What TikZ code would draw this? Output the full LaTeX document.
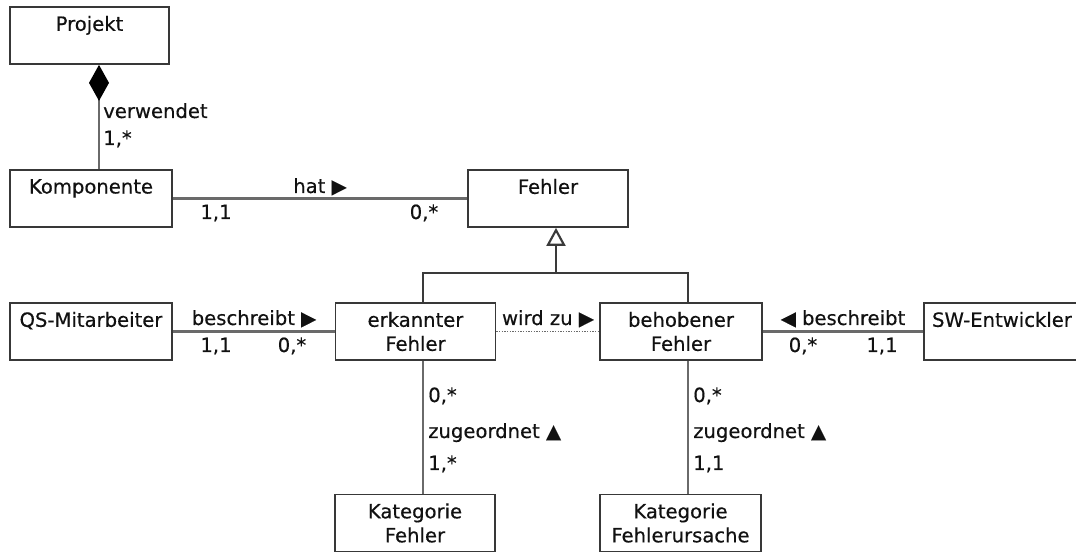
\documentclass[tikz,border=0pt]{standalone}
\usepackage{fontspec}
\setmainfont[FakeBold=0.4]{DejaVu Sans}
\usetikzlibrary{arrows.meta}
\definecolor{boxc}{HTML}{383838}
\definecolor{connc}{HTML}{6A6A6A}
\definecolor{genc}{HTML}{3A3A3A}
\definecolor{txt}{HTML}{111111}
\newcommand\umlfont{\fontsize{14.7}{18}\selectfont}
\begin{document}
\begin{tikzpicture}[x=0.75pt,y=-0.75pt,
  box/.style={draw=boxc, line width=1.3pt, fill=white, minimum height=42.75pt,
    minimum width=120.75pt, align=center, inner sep=0pt, font=\umlfont, text=txt},
  lab/.style={font=\umlfont, text=txt, inner sep=0pt},
  conn/.style={draw=connc, line width=1.6pt},
  gen/.style={draw=genc, line width=1.6pt},
  dotconn/.style={draw=connc, line width=1.3pt, dash pattern=on 1pt off 1pt}]
\useasboundingbox (0,0) rectangle (1076,552);

% classes
\node[box, minimum width=119.25pt] (proj) at (89.5,35.5) {Projekt\\\phantom{Fehler}};
\node[box, minimum width=121.5pt] (komp) at (91,198.5) {Komponente\\\phantom{Fehler}};
\node[box, minimum width=120pt] (fehler) at (548,198.5) {Fehler\\\phantom{Fehler}};
\node[box, minimum width=121.5pt] (qs) at (91,331.5) {QS-Mitarbeiter\\\phantom{Fehler}};
\node[box, minimum width=120pt] (erk) at (415.5,331.5) {erkannter\\Fehler};
\node[box, minimum width=121.5pt] (beh) at (681,331.5) {behobener\\Fehler};
\node[box, minimum width=117pt] (sw) at (1002,331.5) {SW-Entwickler\\\phantom{Fehler}};
\node[box, minimum width=120pt] (katf) at (415,523) {Kategorie\\Fehler};
\node[box, minimum width=120.75pt] (katu) at (680.5,523) {Kategorie\\Fehlerursache};

% helper coordinates
\coordinate (px) at (99,0);
\coordinate (gx) at (556,0);
\coordinate (ex) at (423,0);
\coordinate (bx) at (688,0);
\coordinate (jy) at (0,273);

% connectors
\draw[conn, {Diamond[length=27pt,width=15pt,fill=black,color=black]}-] (proj.south -| px) -- (komp.north -| px);
\draw[conn] (komp.east) -- (fehler.west);
\draw[gen, -{Triangle[open,length=13.5pt,width=14.25pt,fill=white]}] (gx |- jy) -- (fehler.south -| gx);
\draw[gen] (erk.north -| ex) -- (ex |- jy) -- (bx |- jy) -- (beh.north -| bx);
\draw[conn] (qs.east) -- (erk.west);
\draw[dotconn] (erk.east) -- (beh.west);
\draw[conn] (beh.east) -- (sw.west);
\draw[conn] (erk.south -| ex) -- (katf.north -| ex);
\draw[conn] (beh.south -| bx) -- (katu.north -| bx);

% labels
\node[lab, anchor=base west] (lverw) at (103,118) {verwendet};
\node[lab, anchor=base west] (lverwm) at (103,145) {1,*};
\node[lab, anchor=base] (lhat) at (320,193) {hat ▶};
\node[lab, anchor=base] (lhat1) at (216,219) {1,1};
\node[lab, anchor=base] (lhat2) at (424,219) {0,*};
\node[lab, anchor=base] (lbes) at (254,325) {beschreibt ▶};
\node[lab, anchor=base] (lbes1) at (216,352) {1,1};
\node[lab, anchor=base] (lbes2) at (292,352) {0,*};
\node[lab, anchor=base] (lwird) at (548,325) {wird zu ▶};
\node[lab, anchor=base] (lbesr) at (843,325) {◀ beschreibt};
\node[lab, anchor=base] (lbesr1) at (803,352) {0,*};
\node[lab, anchor=base] (lbesr2) at (882,352) {1,1};
\node[lab, anchor=base west] (lz1a) at (428,402) {0,*};
\node[lab, anchor=base west] (lz1b) at (428,438) {zugeordnet ▲};
\node[lab, anchor=base west] (lz1c) at (428,470) {1,*};
\node[lab, anchor=base west] (lz2a) at (693,402) {0,*};
\node[lab, anchor=base west] (lz2b) at (693,438) {zugeordnet ▲};
\node[lab, anchor=base west] (lz2c) at (693,470) {1,1};
\end{tikzpicture}
\end{document}
